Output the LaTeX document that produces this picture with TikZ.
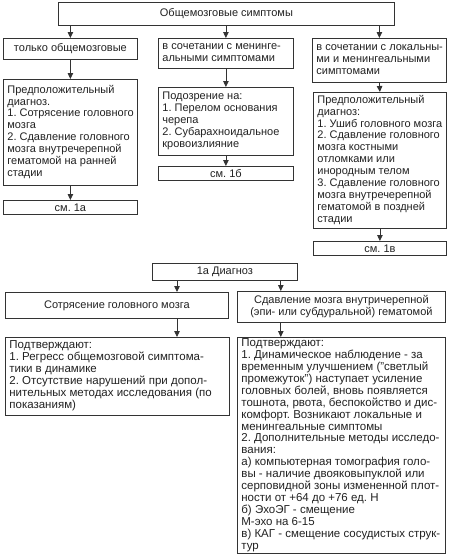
\documentclass[tikz,border=0pt]{standalone}
\usepackage{fontspec}
\setmainfont{Liberation Sans}
\usetikzlibrary{arrows.meta}
\definecolor{linec}{HTML}{333333}
\definecolor{textc}{HTML}{222222}
\frenchspacing
\newcommand\lns[2]{\makebox[#1][l]{\begin{tabular}{@{}l@{}}#2\end{tabular}}}
\begin{document}
\begin{tikzpicture}[x=1pt,y=-1pt,
  box/.style={draw=linec, line width=0.8pt, fill=white, inner xsep=4pt, inner ysep=0pt,
    anchor=north west, text=textc, font=\fontsize{11}{11.9}\selectfont\frenchspacing},
  cbox/.style={box, align=center},
  lbox/.style={box},
  fbox/.style={box, font=\fontsize{11.5}{11.9}\selectfont\frenchspacing},
  arr/.style={draw=linec, line width=0.8pt, -{Triangle[length=6pt,width=5.5pt]}}]
\useasboundingbox (0,0) rectangle (450,558);
% top row
\node[cbox, minimum width=336pt, minimum height=23pt] (T) at (58,2) {Общемозговые симптомы};
\node[cbox, minimum width=134pt, minimum height=21pt] (A1) at (3,38) {только общемозговые};
\node[lbox, minimum width=135pt, minimum height=30pt] (B1) at (158,38) {\lns{127pt}{в сочетании с менинге-\\альными симптомами}};
\node[lbox, minimum width=134pt, minimum height=44pt] (C1) at (312,38) {\lns{126pt}{в сочетании с локальны-\\ми и менингеальными\\симптомами}};
% second row
\node[lbox, minimum width=134pt, minimum height=106pt] (A2) at (3,79) {\lns{126pt}{Предположительный\\диагноз.\\1. Сотрясение головного\\мозга\\2. Сдавление головного\\мозга внутречерепной\\гематомой на ранней\\стадии}};
\node[lbox, minimum width=135pt, minimum height=68pt] (B2) at (158,87) {\lns{127pt}{Подозрение на:\\1. Перелом основания\\черепа\\2. Субарахноидальное\\кровоизлияние}};
\node[lbox, minimum width=133pt, minimum height=136pt] (C2) at (313,92) {\lns{125pt}{Предположительный\\диагноз:\\1. Ушиб головного мозга\\2. Сдавление головного\\мозга костными\\отломками или\\инородным телом\\3. Сдавление головного\\мозга внутречерепной\\гематомой в поздней\\стадии}};
% references
\node[cbox, minimum width=134pt, minimum height=14pt] (A3) at (3,200) {см. 1а};
\node[cbox, minimum width=135pt, minimum height=14pt] (B3) at (158,166) {см. 1б};
\node[cbox, minimum width=133pt, minimum height=14pt] (C3) at (313,241) {см. 1в};
% 1a
\node[cbox, minimum width=145pt, minimum height=17pt] (D) at (152,263) {1а Диагноз};
\node[cbox, minimum width=223pt, minimum height=26pt] (E1) at (5,292) {Сотрясение головного мозга};
\node[cbox, minimum width=208pt, minimum height=31pt] (E2) at (237,291) {Сдавление мозга внутричерепной\\(эпи- или субдуральной) гематомой};
\node[fbox, minimum width=224pt, minimum height=78pt] (F1) at (5,337) {\lns{216pt}{Подтверждают:\\1. Регресс общемозговой симптома-\\тики в динамике\\2. Отсутствие нарушений при допол-\\нительных методах исследования (по\\показаниям)}};
\node[fbox, minimum width=208pt, minimum height=216pt] (F2) at (237,337) {\lns{200pt}{Подтверждают:\\1. Динамическое наблюдение - за\\временным улучшением ("светлый\\промежуток") наступает усиление\\головных болей, вновь появляется\\тошнота, рвота, беспокойство и дис-\\комфорт. Возникают локальные и\\менингеальные симптомы\\2. Дополнительные методы исследо-\\вания:\\а) компьютерная томография голо-\\вы - наличие двояковыпуклой или\\серповидной зоны измененной плот-\\ности от +64 до +76 ед. Н\\б) ЭхоЭГ - смещение\\М-эхо на 6-15\\в) КАГ - смещение сосудистых струк-\\тур}};
% arrows top part
\draw[arr] (T.south -| A1.north) -- (A1.north);
\draw[arr] (T.south -| B1.north) -- (B1.north);
\draw[arr] (T.south -| C1.north) -- (C1.north);
\draw[arr] (A1.south) -- (A2.north);
\draw[arr] (B1.south) -- (B2.north);
\draw[arr] (C1.south) -- (C2.north);
\draw[arr] (A2.south) -- (A3.north);
\draw[arr] (B2.south) -- (B3.north);
\draw[arr] (C2.south) -- (C3.north);
% arrows bottom part
\coordinate (d1) at ([xshift=25pt]D.south west);
\coordinate (d2) at ([xshift=-17pt]D.south east);
\draw[arr] (d1) -- (d1 |- E1.north);
\draw[arr] (d2) -- (d2 |- E2.north);
\coordinate (e1) at (d1 |- E1.south);
\coordinate (e2) at (d2 |- E2.south);
\draw[arr] (e1) -- (e1 |- F1.north);
\draw[arr] (e2) -- (e2 |- F2.north);
\end{tikzpicture}
\end{document}
